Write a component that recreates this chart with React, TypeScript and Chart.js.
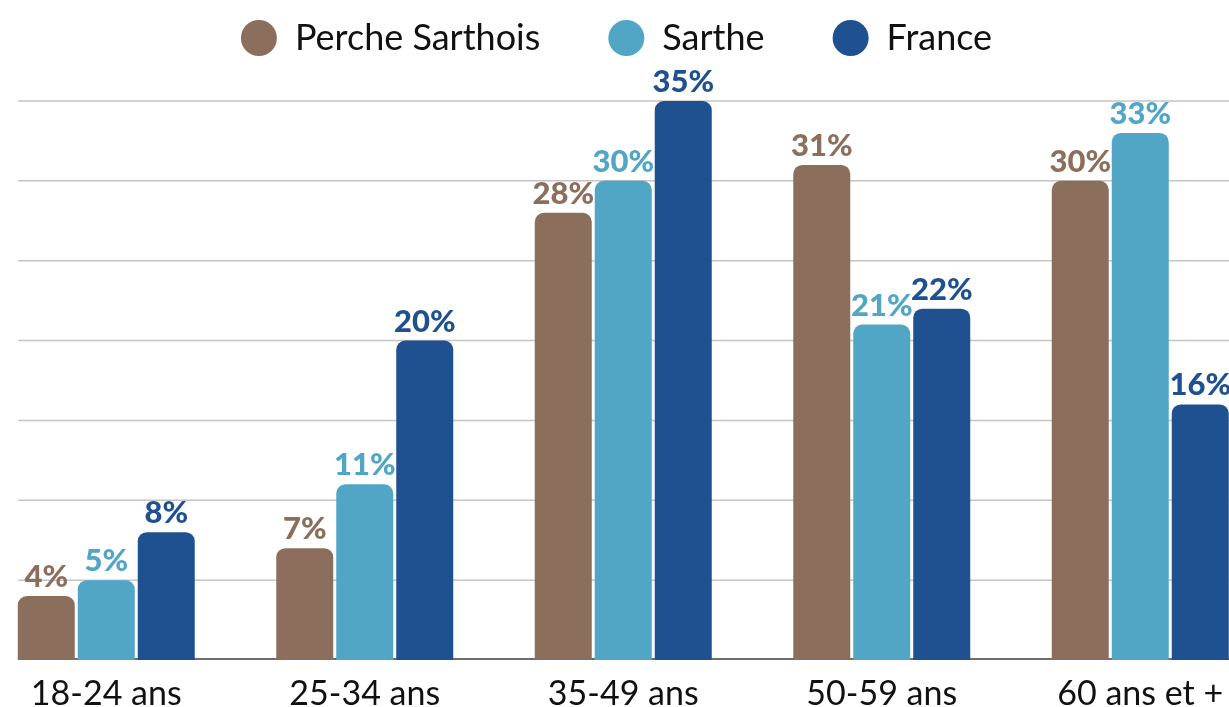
import React, { useEffect, useRef } from "react";
import { Chart, registerables } from "chart.js";

Chart.register(...registerables);

const categories = ["18-24 ans", "25-34 ans", "35-49 ans", "50-59 ans", "60 ans et +"];
const seriesNames = ["Perche Sarthois", "Sarthe", "France"];
const percheValues = [4, 7, 28, 31, 30];
const sartheValues = [5, 11, 30, 21, 33];
const franceValues = [8, 20, 35, 22, 16];
const seriesColors = ["#8B6F5C", "#51A6C6", "#1F5090"];
const yTicks = [0, 5, 10, 15, 20, 25, 30, 35];

const CANVAS_LEFT = -80;
const CANVAS_W = 1352;
const CANVAS_H = 728;
const GRID_START_PAGE_X = 18;

const gridPlugin = {
  id: "customGrid",
  beforeDatasetsDraw(chart: any) {
    const { ctx } = chart;
    const y = chart.scales.y;
    const x0 = GRID_START_PAGE_X - CANVAS_LEFT;
    const x1 = chart.width;
    ctx.save();
    yTicks.forEach((v) => {
      const py = y.getPixelForValue(v);
      ctx.beginPath();
      if (v === 0) {
        ctx.strokeStyle = "#6e6e6e";
        ctx.lineWidth = 2;
        ctx.moveTo(x0, py - 1);
        ctx.lineTo(x1, py - 1);
      } else {
        ctx.strokeStyle = "#c4c4c4";
        ctx.lineWidth = 1.5;
        ctx.moveTo(x0, py);
        ctx.lineTo(x1, py);
      }
      ctx.stroke();
    });
    ctx.restore();
  },
};

const labelPlugin = {
  id: "valueLabels",
  afterDatasetsDraw(chart: any) {
    const { ctx } = chart;
    ctx.save();
    ctx.font = "900 31px Lato";
    ctx.textAlign = "center";
    ctx.textBaseline = "alphabetic";
    chart.data.datasets.forEach((ds: any, i: number) => {
      const meta = chart.getDatasetMeta(i);
      ctx.fillStyle = ds.backgroundColor;
      meta.data.forEach((bar: any, j: number) => {
        ctx.fillText(ds.data[j] + "%", bar.x, bar.y - 9);
      });
    });
    ctx.restore();
  },
};

const legendSpacing = {
  id: "legendSpacing",
  beforeUpdate(chart: any) {
    const lg = chart.legend;
    if (lg && !lg.__patched) {
      const orig = lg.fit;
      lg.fit = function () {
        orig.call(this);
        this.height += 35;
      };
      lg.__patched = true;
    }
  },
};

export default function App() {
  const ref = useRef<HTMLCanvasElement>(null);
  useEffect(() => {
    if (!ref.current) return;
    const allValues = [percheValues, sartheValues, franceValues];
    const chart = new Chart(ref.current, {
      type: "bar",
      data: {
        labels: categories,
        datasets: seriesNames.map((name, i) => ({
          label: name,
          data: allValues[i],
          backgroundColor: seriesColors[i],
          borderWidth: 0,
          borderRadius: { topLeft: 9, topRight: 9, bottomLeft: 0, bottomRight: 0 },
          borderSkipped: "start",
          categoryPercentage: 0.6963,
          barPercentage: 0.95,
        })),
      },
      options: {
        animation: false,
        responsive: false,
        devicePixelRatio: 1,
        layout: { padding: { left: 43.5, right: 2.5, top: -48, bottom: 0 } },
        plugins: {
          legend: {
            position: "top",
            align: "center",
            labels: {
              usePointStyle: true,
              pointStyle: "circle",
              boxHeight: 25.5,
              pointStyleWidth: 36,
              padding: 68,
              color: "#111111",
              font: { family: "Lato", size: 36 },
            },
          },
          tooltip: { enabled: false },
        },
        scales: {
          x: {
            grid: { display: false, drawTicks: false },
            border: { display: false },
            ticks: {
              color: "#111111",
              font: { family: "Lato", size: 34, lineHeight: 1 },
              padding: 17,
              maxRotation: 0,
              autoSkip: false,
            },
          },
          y: {
            min: 0,
            max: 35,
            grid: { display: false, drawTicks: false },
            border: { display: false },
            ticks: { display: false, stepSize: 5 },
            afterFit(scale: any) {
              scale.width = 13.5;
            },
          },
        },
      },
      plugins: [gridPlugin, labelPlugin, legendSpacing],
    });
    return () => chart.destroy();
  }, []);
  return (
    <div style={{ position: "fixed", left: 0, top: 0, width: 1229, height: 707, overflow: "hidden", background: "#ffffff" }}>
      <div style={{ position: "absolute", left: CANVAS_LEFT, top: 0, width: CANVAS_W, height: CANVAS_H }}>
        <canvas ref={ref} width={CANVAS_W} height={CANVAS_H} />
      </div>
    </div>
  );
}
